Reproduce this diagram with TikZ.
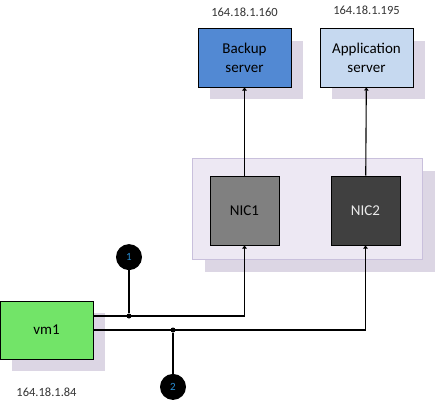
\documentclass[tikz,border=0pt]{standalone}
\usepackage{fontspec}
\setmainfont{Carlito}
\usetikzlibrary{arrows.meta, positioning, shadows, fit, backgrounds}

\definecolor{backupblue}{HTML}{5289D3}
\definecolor{appblue}{HTML}{C6D9F0}
\definecolor{vmgreen}{HTML}{72E468}
\definecolor{nicgray}{HTML}{808080}
\definecolor{nicdark}{HTML}{404040}
\definecolor{groupfill}{HTML}{EDE8F3}
\definecolor{groupline}{HTML}{C9C0DC}
\definecolor{shadowgray}{HTML}{DCD6E4}
\definecolor{badgeblue}{HTML}{2A8FD6}

\begin{document}
\begin{tikzpicture}[
  x=1pt, y=-1pt,
  node distance=28pt and 28pt,
  box/.style={rectangle, draw, line width=1pt, minimum width=93pt, minimum height=58pt, inner sep=0pt, align=center, font=\fontsize{15}{19}\selectfont},
  nic/.style={box, minimum width=69pt, minimum height=69pt},
  shadowbox/.style={general shadow={fill=shadowgray, shadow xshift=12pt, shadow yshift=-12pt}},
  addr/.style={inner sep=0pt, text=black!80, font=\fontsize{12.5}{15}\selectfont},
  badge/.style={circle, fill=black, minimum size=26pt, inner sep=0pt, text=badgeblue, font=\fontsize{11}{13}\selectfont},
  joint/.style={circle, fill=black, minimum size=5pt, inner sep=0pt},
  link/.style={-{Triangle[length=3pt, width=4.5pt]}, line width=1.1pt}
]
\useasboundingbox (0,0) rectangle (435,401);

\node[box, shadowbox, fill=backupblue] (backup) at (244.5,58) {Backup\\server};
\node[box, shadowbox, fill=appblue, right=28pt of backup] (app) {Application\\server};
\node[addr, above=12pt of backup] (backupip) {164.18.1.160};
\node[addr, above=14pt of app] (appip) {164.18.1.195};

\node[nic, fill=nicgray, below=88pt of backup] (nic1) {NIC1};
\node[nic, fill=nicdark, text=white!92!black, right=51pt of nic1] (nic2) {NIC2};
\begin{scope}[on background layer]
  \node[shadowbox, draw=groupline, fill=groupfill, line width=1pt, fit=(nic1) (nic2), inner xsep=19.5pt, inner ysep=15.5pt, xshift=2.5pt, yshift=1.5pt] (nics) {};
\end{scope}

\node[box, shadowbox, fill=vmgreen] (vm) at (46.5,330) {vm1};
\node[addr, below=28pt of vm] (vmip) {164.18.1.84};

\node[joint] (j1) at (129,316) {};
\node[joint] (j2) at (173,330) {};
\node[badge, above=43pt of j1] (b1) {1};
\node[badge, below=41pt of j2] (b2) {2};

% connections
\draw[link] (nic1) -- (backup);
\draw[link] (nic2) -- (app);
\draw[link] (vm.east |- j1) -- (j1.center) -| (nic1.south);
\draw[link] (vm.east) -- (j2.center) -| (nic2.south);
\draw[line width=1.1pt] (j1) -- (b1);
\draw[line width=1.1pt] (j2) -- (b2);

\end{tikzpicture}
\end{document}
